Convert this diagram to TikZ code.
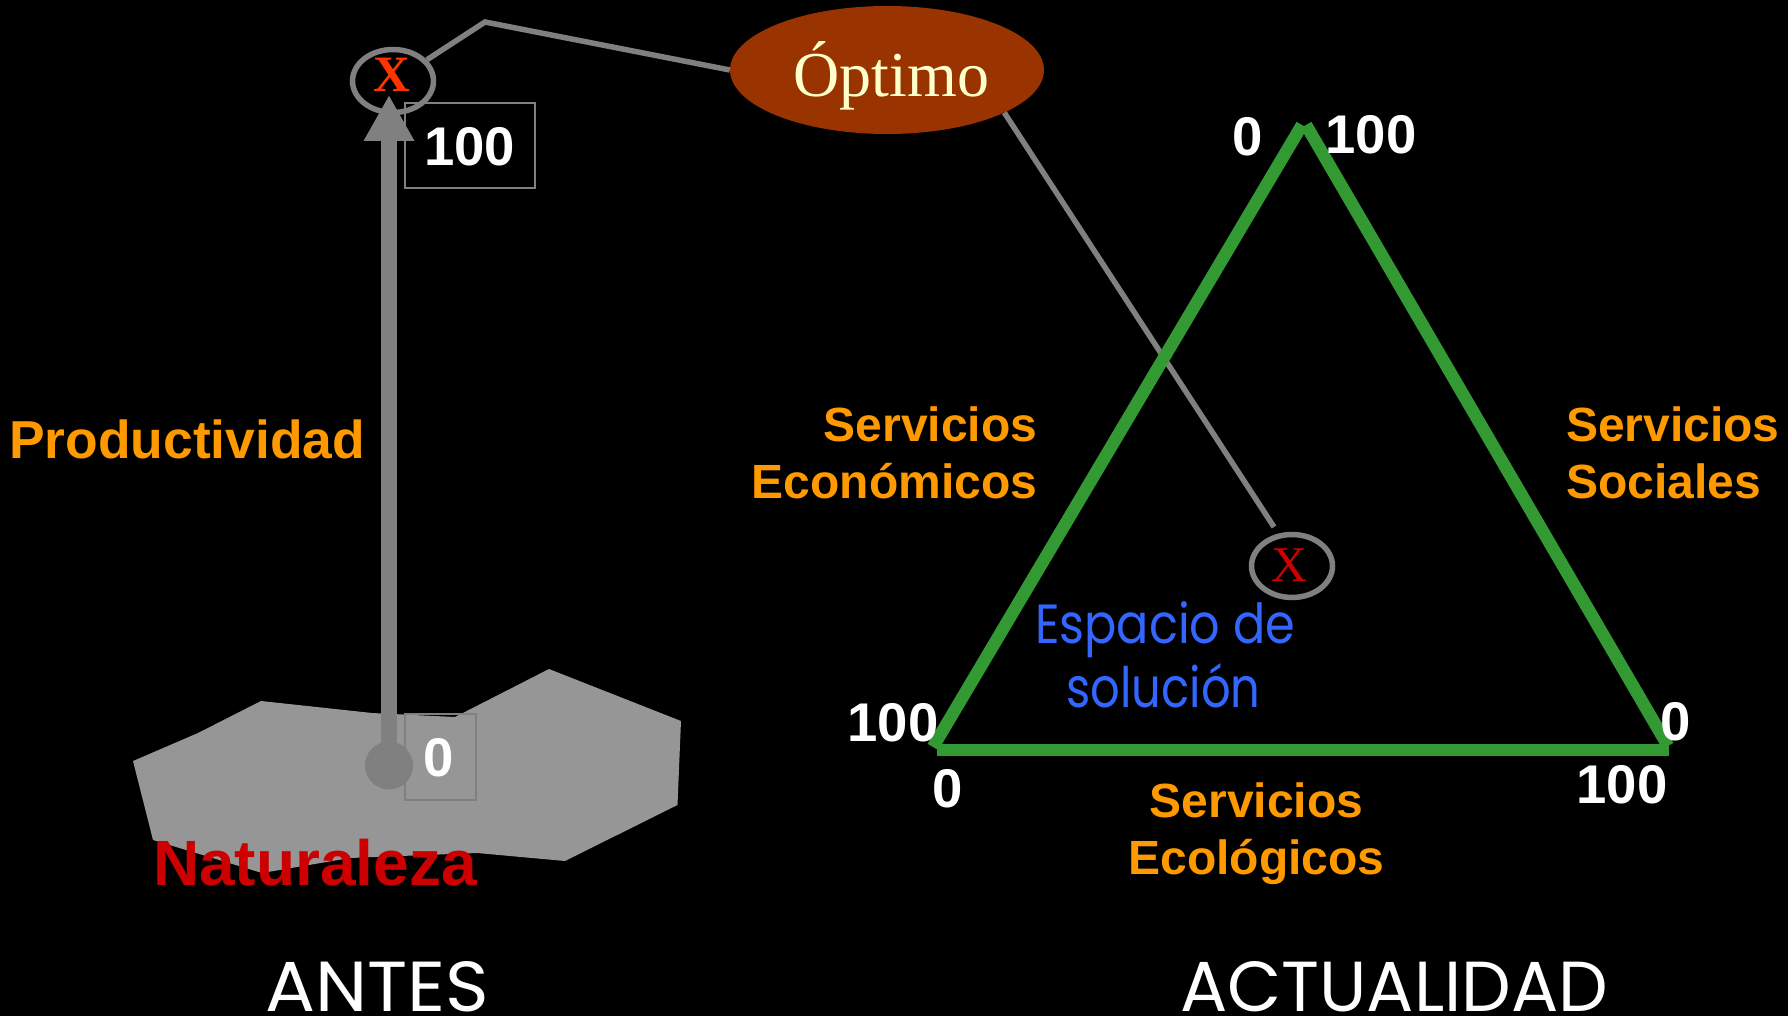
\documentclass[tikz,border=0pt]{standalone}
\usepackage{fontspec}
\usepackage{graphicx}
\setmainfont{Liberation Sans}
\newfontfamily\timesf{Liberation Serif}
\newfontfamily\comicf{Poppins}
\usetikzlibrary{shapes.geometric,arrows.meta}
\definecolor{ringgray}{HTML}{808080}
\definecolor{landgray}{HTML}{969696}
\definecolor{optfill}{HTML}{993300}
\definecolor{optink}{HTML}{FFFFCC}
\definecolor{xhot}{HTML}{FF3300}
\definecolor{redd}{HTML}{CC0000}
\definecolor{orangy}{HTML}{FF9900}
\definecolor{greeny}{HTML}{339933}
\definecolor{bluey}{HTML}{3366FF}
\tikzset{
  num/.style={text=white,inner sep=0pt,font=\bfseries\fontsize{54.5}{62}\selectfont},
  numbox/.style={draw=ringgray,line width=2pt,fill=none},
  svc/.style={text=orangy,inner sep=0pt,font=\bfseries\fontsize{48}{57}\selectfont},
  ring/.style={draw=ringgray,line width=5.5pt,ellipse,inner sep=0pt,minimum width=81pt,minimum height=63pt},
  mark x/.style={inner sep=0pt,anchor=base},
  wire/.style={draw=ringgray,line width=5.5pt,line join=miter},
  side/.style={draw=greeny,line width=12.5pt,line cap=butt},
  hand/.style={inner sep=0pt,anchor=base,text=white,font=\comicf\fontsize{70}{80}\selectfont},
}
\begin{document}
\begin{tikzpicture}[x=1pt,y=-1pt]
\useasboundingbox (0,0) rectangle (1788,1016);
\fill[black] (0,0) rectangle (1788,1016);
% land
\fill[landgray] (133,761) -- (198,733) -- (261,701) -- (372,713) -- (455,717) -- (549,669) -- (681,721) -- (677.5,805) -- (565,861) -- (477,853) -- (350,858) -- (262,873) -- (153,840) -- cycle;
% boxes
\node[numbox,minimum width=130pt,minimum height=85pt,inner sep=0pt] (boxhundred) at (469.75,146) {};
\node[numbox,minimum width=71.5pt,minimum height=86pt,inner sep=0pt] (boxzero) at (440.25,756.5) {};
\node[num] (lblhundred) at (469.5,147) {100};
\node[num] (lblzero) at (439,757.5) {0};
% left ring and arrow
\node[ring] (ringa) at (393,81) {};
\node[mark x,text=xhot,font=\timesf\bfseries\fontsize{51}{51}\selectfont] (xa) at (392,92) {X};
\node[circle,fill=ringgray,inner sep=0pt,minimum size=48pt] (dot) at (389,765.5) {};
\coordinate (tip) at (389,95);
\draw[draw=ringgray,line width=15.5pt,-{Triangle[length=46pt,width=47.5pt]}] (dot.center) -- (tip);
% Optimo
\node[ellipse,fill=optfill,inner sep=0pt,minimum width=314pt,minimum height=128pt] (opt) at (887,70) {};
\node[inner sep=0pt,anchor=base,text=optink,font=\timesf\fontsize{64}{64}\selectfont] (opttext) at (891.5,96.5) {Óptimo};
\coordinate (bend) at (485,22);
\draw[wire] (ringa.32) -- (bend) -- (opt.west);
\coordinate (wireend) at (1274,527);
\draw[wire] (opt.-20) -- (wireend);
% triangle
\coordinate (ta) at (933,747);
\coordinate (tb) at (1302,125);
\coordinate (tc) at (1306,125);
\coordinate (td) at (1668,746);
\coordinate (te) at (937,750);
\coordinate (tf) at (1669,750);
\draw[side] (ta) -- (tb);
\draw[side] (tc) -- (td);
\draw[side,line width=12pt] (te) -- (tf);
% right ring
\node[ring] (ringb) at (1292,566) {};
\node[mark x,text=redd,font=\timesf\fontsize{50}{50}\selectfont] (xb) at (1289.5,581) {X};
% numbers
\node[num] (n1) at (1248,136.5) {0};
\node[num] (n2) at (1371,135) {100};
\node[num] (n3) at (893,723) {100};
\node[num] (n4) at (948,789) {0};
\node[num] (n5) at (1676,722) {0};
\node[num] (n6) at (1622,785) {100};
% labels
\node[svc,align=right,anchor=east] (eco) at (1037.5,452.5) {Servicios\\Económicos};
\node[svc,align=left,anchor=west] (soc) at (1566,453) {Servicios\\Sociales};
\node[svc,align=center] (ecol) at (1256.5,833.5) {Servicios\\Ecológicos};
\node[inner sep=0pt,anchor=base west,text=orangy,font=\bfseries\fontsize{53.4}{60}\selectfont] (prod) at (9,458) {Productividad};
\node[inner sep=0pt,anchor=base west,text=redd,font=\bfseries\fontsize{64}{70}\selectfont] (nat) at (153,885) {Naturaleza};
% hand-written texts
\node[hand,text=bluey,font=\comicf\fontsize{56}{60}\selectfont] (esp1) at (1165,643) {\resizebox{260pt}{42pt}{Espacio de}};
\node[hand,text=bluey,font=\comicf\fontsize{56}{60}\selectfont] (esp2) at (1163.5,707) {\resizebox{194pt}{44pt}{solución}};
\node[hand] (antes) at (377.5,1011) {\resizebox{224pt}{50pt}{ANTES}};
\node[hand] (actual) at (1394,1011) {\resizebox{428pt}{50pt}{ACTUALIDAD}};
\end{tikzpicture}
\end{document}
